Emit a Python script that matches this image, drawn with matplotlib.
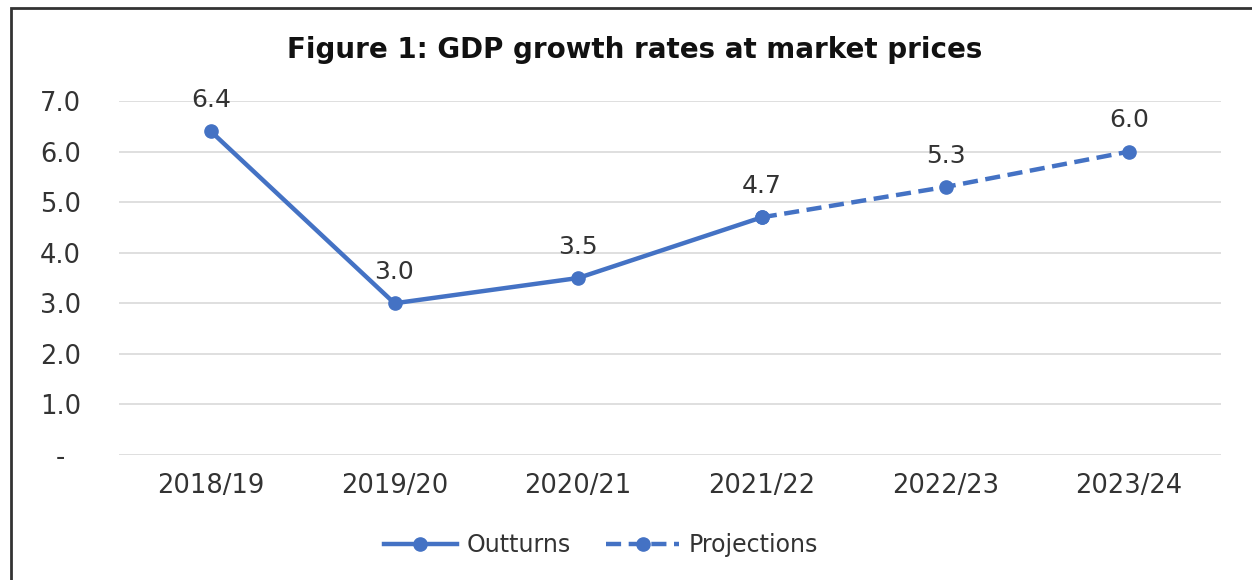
import matplotlib.pyplot as plt
from matplotlib.patches import Rectangle

# GDP growth data
years = ['2018/19', '2019/20', '2020/21', '2021/22', '2022/23', '2023/24']
outturns = [6.4, 3.0, 3.5, 4.7]
projections = [4.7, 5.3, 6.0]
labels = ['6.4', '3.0', '3.5', '4.7', '5.3', '6.0']
yticks = [0, 1, 2, 3, 4, 5, 6, 7]
ytick_labels = ['-', '1.0', '2.0', '3.0', '4.0', '5.0', '6.0', '7.0']

blue = '#4472C4'
txt = '#333333'
plt.rcParams['font.family'] = ['DejaVu Sans']

fig = plt.figure(figsize=(12.52, 5.8), dpi=100)
ax = fig.add_axes([119 / 1252, 1 - 455 / 580, (1221 - 119) / 1252, (455 - 101) / 580])

x_out = list(range(len(outturns)))
x_proj = list(range(len(outturns) - 1, len(years)))
ax.plot(x_out, outturns, color=blue, lw=3.2, marker='o', ms=9.5, label='Outturns')
ax.plot(x_proj, projections, color=blue, lw=3.2, ls=(0, (3.4, 1.7)), marker='o', ms=9.5,
        label='Projections')

values = outturns + projections[1:]
for i, (v, t) in enumerate(zip(values, labels)):
    ax.annotate(t, (i, v), xytext=(0, 14), textcoords='offset points',
                ha='center', va='bottom', fontsize=18, color=txt)

ax.set_xlim(-0.5, len(years) - 0.5)
ax.set_ylim(0, 7)
ax.set_xticks(range(len(years)))
ax.set_xticklabels(years, fontsize=18.5, color=txt)
ax.set_yticks(yticks)
ax.set_yticklabels(ytick_labels, fontsize=18.5, color=txt)
ax.tick_params(length=0)
ax.tick_params(axis='x', pad=13)
ax.tick_params(axis='y', pad=42)
for lab in ax.get_yticklabels():
    lab.set_horizontalalignment('center')
ax.grid(axis='y', color='#d9d9d9', lw=1.2)
ax.set_axisbelow(True)
for s in ax.spines.values():
    s.set_visible(False)

fig.text(0.507, 1 - 50 / 580, 'Figure 1: GDP growth rates at market prices',
         ha='center', va='center', fontsize=20, fontweight='bold', color='#111111')

leg = fig.legend(loc='center', bbox_to_anchor=(601 / 1252, 1 - 545 / 580), ncol=2,
                 frameon=False, fontsize=17, handlelength=3.1, handletextpad=0.4,
                 columnspacing=1.5)
for t in leg.get_texts():
    t.set_color(txt)

# outer frame of the chart
fig.patches.append(Rectangle((11 / 1252, -0.05), 1.2, 1 - 8 / 580 + 0.05,
                             transform=fig.transFigure, fill=False,
                             edgecolor='#333333', lw=2))

fig.savefig('out.png', dpi=100)
